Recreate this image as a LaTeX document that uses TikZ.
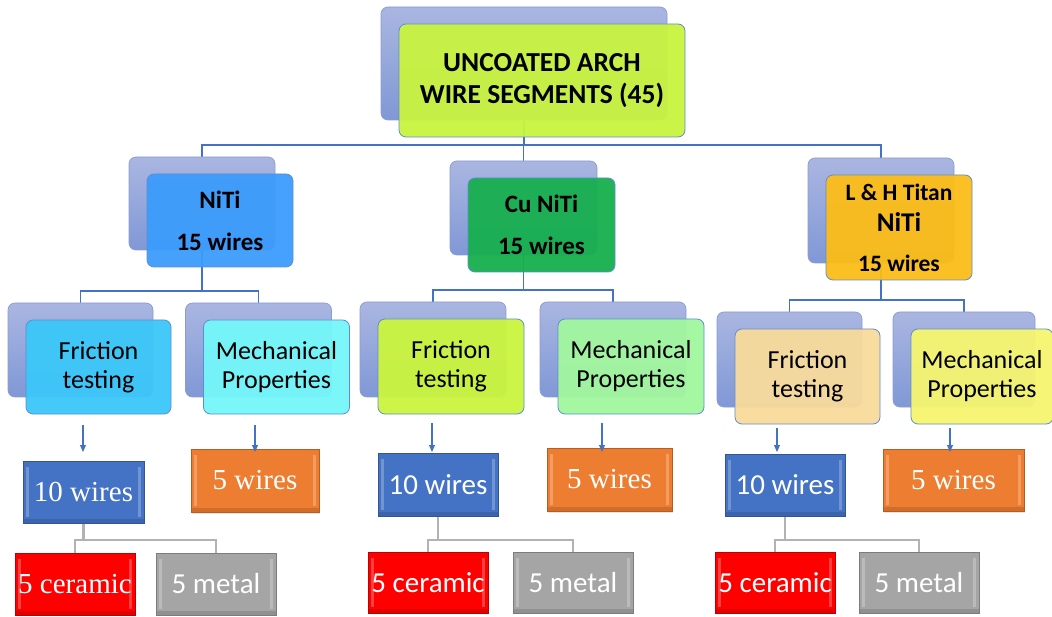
\documentclass[tikz,border=0pt]{standalone}
\usepackage{fontspec}
\setmainfont{Carlito}
\newfontfamily\tnr{Liberation Serif}
\usetikzlibrary{arrows.meta,calc,positioning,backgrounds,shadows}

\definecolor{backtop}{HTML}{AAB6E1}
\definecolor{backbot}{HTML}{8098D6}
\definecolor{backline}{HTML}{8C9CD2}
\definecolor{frontline}{HTML}{5F8DD2}
\definecolor{linkblue}{HTML}{4472C4}
\definecolor{ttlgreen}{HTML}{C9F43F}
\definecolor{nitiblue}{HTML}{3C9CFB}
\definecolor{cugreen}{HTML}{17AF4F}
\definecolor{lhamber}{HTML}{FBBD18}
\definecolor{fricA}{HTML}{3CC7F9}
\definecolor{mechA}{HTML}{74F7F9}
\definecolor{fricB}{HTML}{CBF53E}
\definecolor{mechB}{HTML}{A2F79E}
\definecolor{fricC}{HTML}{F8DB9B}
\definecolor{mechC}{HTML}{F6F56F}
\definecolor{tenblue}{HTML}{4472C4}
\definecolor{fiveorange}{HTML}{ED7D31}
\definecolor{cerred}{HTML}{FF0000}
\definecolor{metgray}{HTML}{A5A5A5}

\tikzset{
  backbox/.style={rounded corners=7pt,draw=backline,line width=0.7pt,
    top color=backtop,bottom color=backbot,inner sep=0pt},
  frontbox/.style={rounded corners=7pt,draw=frontline,line width=0.8pt,
    fill opacity=0.95,text opacity=1,inner sep=0pt,align=center},
  link/.style={linkblue,line width=1.3pt},
  glink/.style={black!30,line width=2.6pt},
  arr/.style={linkblue,line width=1.1pt,-{Triangle[length=7pt,width=6pt]}},
  bevel/.style={draw=#1!75!black,fill=#1,line width=0.7pt,text=white,
    inner sep=0pt,font=\fontsize{29}{33}\selectfont,
    path picture={
      \fill[white,opacity=0.25]
        ([xshift=3pt,yshift=-6pt]path picture bounding box.north west) rectangle
        ([xshift=6pt,yshift=6pt]path picture bounding box.south west);
      \fill[white,opacity=0.25]
        ([xshift=-6pt,yshift=-6pt]path picture bounding box.north east) rectangle
        ([xshift=-3pt,yshift=6pt]path picture bounding box.south east);
      \fill[black,opacity=0.12]
        (path picture bounding box.south west) rectangle
        ([yshift=4pt]path picture bounding box.south east);}},
  halo/.style={drop shadow={opacity=0.2,shadow xshift=1pt,shadow yshift=-2pt}},
  ttlfont/.style={font=\bfseries\fontsize{27.5}{32}\selectfont},
  midfont/.style={font=\bfseries\fontsize{25}{42}\selectfont},
  lowfont/.style={font=\fontsize{26}{29}\selectfont}
}

% back card plus the coloured card laid over it, 18/17 down and right
\newcommand{\tierpair}[8][]{%
  \node[backbox,minimum width=#5pt,minimum height=#6pt] (#2b) at (#3,#4) {};
  \node[frontbox,fill=#7,minimum width=#5pt,minimum height=#6pt,#1]
    (#2) at ($(#2b)+(18,17)$) {#8};}

\begin{document}
\begin{tikzpicture}[x=1pt,y=-1pt]
% 1 unit = 1 px of the 1052 x 617 sheet, y running down
\useasboundingbox (0,0) rectangle (1052,617);

% cards
\tierpair[ttlfont]{ttl}{524}{63.5}{286}{113}{ttlgreen}{UNCOATED ARCH\\WIRE SEGMENTS (45)}
\tierpair[midfont]{niti}{202}{203.5}{146}{93}{nitiblue}{NiTi\\15 wires}
\tierpair[midfont]{cuniti}{523.5}{208}{147}{94}{cugreen}{Cu NiTi\\15 wires}
\tierpair[font=\bfseries\fontsize{23.5}{31}\selectfont]{lh}{881}{210.5}{146}{105}{lhamber}
  {L \& H Titan\\{\fontsize{27}{31}\selectfont NiTi}\\[9pt]15 wires}

\tierpair[lowfont]{fr1}{80.5}{350}{145}{94}{fricA}{Friction\\testing}
\tierpair[lowfont]{me1}{258.5}{350}{146}{94}{mechA}{Mechanical\\Properties}
\tierpair[lowfont]{fr2}{433}{349.5}{146}{95}{fricB}{Friction\\testing}
\tierpair[lowfont]{me2}{613}{349.5}{146}{95}{mechB}{Mechanical\\Properties}
\tierpair[lowfont]{fr3}{789.5}{359.5}{145}{95}{fricC}{Friction\\testing}
\tierpair[lowfont]{me3}{964}{359.5}{142}{95}{mechC}{Mechanical\\Properties}

% wire counts
\node[bevel=tenblue,minimum width=121pt,minimum height=62pt] (tw1) at (83.5,492) {\tnr 10 wires};
\node[bevel=fiveorange,halo,minimum width=128pt,minimum height=63pt] (fw1) at (255,480.5) {\tnr 5 wires};
\node[bevel=cerred,minimum width=120pt,minimum height=62pt] (cr1) at (75,584) {\tnr 5 ceramic};
\node[bevel=metgray,minimum width=120pt,minimum height=62pt] (mt1) at (216,584) {5 metal};

\node[bevel=tenblue,minimum width=120pt,minimum height=63pt] (tw2) at (438,484.5) {10 wires};
\node[bevel=fiveorange,halo,minimum width=125pt,minimum height=63pt] (fw2) at (609.5,479.5) {\tnr 5 wires};
\node[bevel=cerred,minimum width=120pt,minimum height=61pt] (cr2) at (428,582.5) {5 ceramic};
\node[bevel=metgray,minimum width=120pt,minimum height=61pt] (mt2) at (573,582.5) {5 metal};

\node[bevel=tenblue,minimum width=120pt,minimum height=62pt] (tw3) at (785,485) {10 wires};
\node[bevel=fiveorange,halo,minimum width=141pt,minimum height=62pt] (fw3) at (953.5,480) {\tnr 5 wires};
\node[bevel=cerred,minimum width=120pt,minimum height=61pt] (cr3) at (775,582.5) {5 ceramic};
\node[bevel=metgray,minimum width=120pt,minimum height=61pt] (mt3) at (919,582.5) {5 metal};

% connectors sit under the cards
\begin{scope}[on background layer]
\fill[white] (0,0) rectangle (1052,617);
\coordinate (bar1) at (0,145);
\coordinate (bar2) at (0,291);
\coordinate (bar3) at (0,290);
\coordinate (bar4) at (0,300);
\coordinate (gbar) at (0,540);
\foreach \c in {nitib,cunitib,lhb}{
  \draw[link] (ttlb.south) -- (ttlb.south |- bar1) -| (\c.north);}
\foreach \p/\a/\b/\y in {nitib/fr1b/me1b/bar2,cunitib/fr2b/me2b/bar3,lhb/fr3b/me3b/bar4}{
  \draw[link] (\p.south) -- (\p.south |- \y) -| (\a.north);
  \draw[link] (\p.south |- \y) -| (\b.north);}
\foreach \t/\c/\m in {tw1/cr1/mt1,tw2/cr2/mt2,tw3/cr3/mt3}{
  \draw[glink] (\t.south) -- (\t.south |- gbar) -| (\c.north);
  \draw[glink] (\t.south |- gbar) -| (\m.north);}
\end{scope}

% short arrows down to the counts
\coordinate (tip) at (0,452);
\foreach \n/\x/\y in {a1/83/425,a2/255/425,a3/432/423,a4/602/423,a5/777/428,a6/950/428}{
  \coordinate (\n) at (\x,\y);
  \draw[arr] (\n) -- (\n |- tip);}
\end{tikzpicture}
\end{document}
